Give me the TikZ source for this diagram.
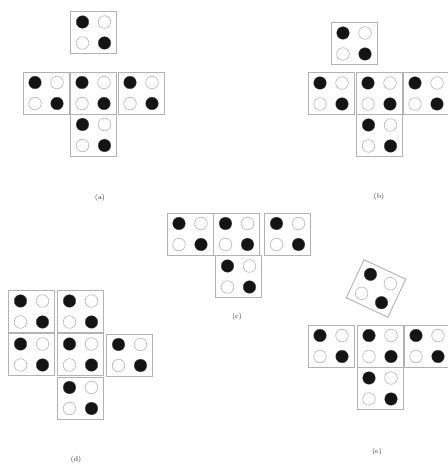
\documentclass[tikz,border=0pt]{standalone}
\begin{document}
\begin{tikzpicture}[x=1pt,y=1pt,
  facebox/.style={draw=black!30, line width=0.9pt, fill=white},
  dotb/.style={fill=black!92, draw=black!70, line width=0.3pt},
  dotw/.style={fill=white, draw=black!28, line width=0.6pt},
  lab/.style={font=\fontsize{7}{8}\selectfont, text=black!85, inner sep=0pt},
  face/.pic={
    \draw[facebox] (-23,-21) rectangle (23,21);
    \fill[dotb] (-11,10.5) circle (6.3);
    \draw[dotw] (11,10.5) circle (6.3);
    \draw[dotw] (-11,-10.5) circle (6.3);
    \fill[dotb] (11,-10.5) circle (6.3);
  }]
\useasboundingbox (0,0) rectangle (448,467);
\clip (0,0) rectangle (448,467);
% (a)
\pic (a1) at (93.5,{467-32.5}) {face};
\pic (a2) at (46,{467-93}) {face};
\pic (a3) at (93,{467-93}) {face};
\pic (a4) at (141,{467-93}) {face};
\pic (a5) at (93.5,{467-135}) {face};
\node[lab] (la) at (100,{467-198}) {(a)};
% (b)
\pic (b1) at (354,{467-43.5}) {face};
\pic (b2) at (331,{467-93.5}) {face};
\pic (b3) at (379,{467-93.5}) {face};
\pic (b4) at (426,{467-93.5}) {face};
\pic (b5) at (379.5,{467-135.5}) {face};
\node[lab] (lb) at (379,{467-197}) {(b)};
% (c)
\pic (c1) at (190,{467-234}) {face};
\pic (c2) at (236.5,{467-234}) {face};
\pic (c3) at (287.5,{467-234}) {face};
\pic (c4) at (238.5,{467-276.5}) {face};
\node[lab] (lc) at (237,{467-317}) {(c)};
% (d)
\pic (d1) at (31.5,{467-311.5}) {face};
\pic (d2) at (80.5,{467-311.5}) {face};
\pic (d3) at (31.5,{467-354.5}) {face};
\pic (d4) at (80.5,{467-354.5}) {face};
\pic (d5) at (129.5,{467-355}) {face};
\pic (d6) at (80.5,{467-398}) {face};
\node[lab] (ld) at (76,{467-460}) {(d)};
% (e)
\pic[rotate=-25] (e1) at (376,{467-288.5}) {face};
\pic (e2) at (331,{467-346}) {face};
\pic (e3) at (380,{467-346}) {face};
\pic (e4) at (427,{467-346}) {face};
\pic (e5) at (380,{467-388.5}) {face};
\node[lab] (le) at (377,{467-452}) {(e)};
\end{tikzpicture}
\end{document}
